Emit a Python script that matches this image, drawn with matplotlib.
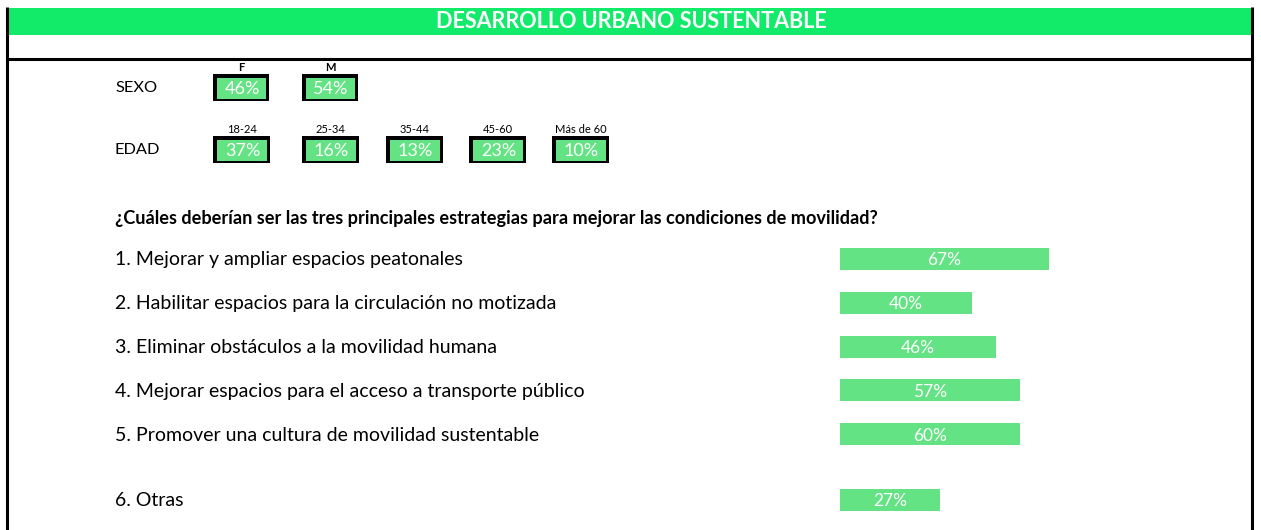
import matplotlib
matplotlib.use("Agg")
import matplotlib.pyplot as plt
from matplotlib.patches import Rectangle
from matplotlib.transforms import blended_transform_factory

plt.rcParams['font.family'] = ['Lato', 'DejaVu Sans']

# ---------------- data ----------------
title = "DESARROLLO URBANO SUSTENTABLE"
sexo_labels = ["F", "M"]
sexo_values = [46, 54]
edad_labels = ["18-24", "25-34", "35-44", "45-60", "Más de 60"]
edad_values = [37, 16, 13, 23, 10]
question = "¿Cuáles deberían ser las tres principales estrategias para mejorar las condiciones de movilidad?"
strategies = [
    "1. Mejorar y ampliar espacios peatonales",
    "2. Habilitar espacios para la circulación no motizada",
    "3. Eliminar obstáculos a la movilidad humana",
    "4. Mejorar espacios para el acceso a transporte público",
    "5. Promover una cultura de movilidad sustentable",
    "6. Otras",
]
strategy_values = [67, 40, 46, 57, 60, 27]
# bar lengths as drawn in the picture (in % units)
bar_lengths = [67, 42.3, 50, 57.7, 57.7, 32.1]

# ---------------- layout / style ----------------
W, H = 1261, 530
HEADER_GREEN = "#12EA6A"
BAR_GREEN = "#63E383"
fig = plt.figure(figsize=(W / 100, H / 100), dpi=100)
fig.patch.set_facecolor("white")

# overlay axes in pixel coordinates for frame decorations
ov = fig.add_axes([0, 0, 1, 1])
ov.set_xlim(0, W)
ov.set_ylim(H, 0)
ov.axis("off")

# header band
ov.add_patch(Rectangle((8, 8), 1243, 27, facecolor=HEADER_GREEN, edgecolor="none"))
ov.text(631, 22, title, color="white", fontsize=15.5, fontweight="bold",
        ha="center", va="center")
# frame lines
ov.plot([7, 7], [7, H], color="black", lw=2.2, solid_capstyle="butt")
ov.plot([1252, 1252], [7, H], color="black", lw=2.2, solid_capstyle="butt")
ov.plot([7, 1253], [58.5, 58.5], color="black", lw=2.2, solid_capstyle="butt")

# SEXO / EDAD boxes
def draw_box(x0, w, y0, h, header, value, bold_header):
    ov.add_patch(Rectangle((x0, y0), w, h, facecolor="black", edgecolor="none"))
    ov.add_patch(Rectangle((x0 + 3.5, y0 + 3.5), w - 7, h - 6, facecolor=BAR_GREEN,
                           edgecolor="none"))
    ov.text(x0 + w / 2 + 1, y0 + h / 2 + 1.5, f"{value}%", color="white", fontsize=13,
            ha="center", va="center")
    ov.text(x0 + w / 2, y0 - 6.5, header, color="black", fontsize=8,
            fontweight="bold" if bold_header else "normal", ha="center", va="center")

ov.text(115, 88, "SEXO", fontsize=11.8, ha="left", va="center")
sexo_x = [213, 302]
for x0, lab, v in zip(sexo_x, sexo_labels, sexo_values):
    draw_box(x0, 56, 74, 27, lab, v, True)

ov.text(115, 150, "EDAD", fontsize=11.8, ha="left", va="center")
edad_x = [213, 302, 386, 469, 552]
for x0, lab, v in zip(edad_x, edad_labels, edad_values):
    draw_box(x0, 57, 136, 27, lab, v, False)

ov.text(115, 218.5, question, fontsize=13.1, fontweight="bold", ha="left", va="center")

# ---------------- bar chart ----------------
row_pos = [0, 1, 2, 3, 4, 5.5]
px_per_unit = 3.12
row_px = 43.8
top_px = 259 - 0.5 * row_px
bot_px = 259 + 6.0 * row_px
ax = fig.add_axes([840 / W, 1 - bot_px / H, 100 * px_per_unit / W, (bot_px - top_px) / H])
ax.set_xlim(0, 100)
ax.set_ylim(6.0, -0.5)
ax.axis("off")
ax.barh(row_pos, bar_lengths, height=0.5, color=BAR_GREEN, edgecolor="none")
for y, L, v in zip(row_pos, bar_lengths, strategy_values):
    ax.text(L / 2, y + 0.03, f"{v}%", color="white", fontsize=12.5, ha="center", va="center")

tr = blended_transform_factory(fig.transFigure, ax.transData)
for y, lab in zip(row_pos, strategies):
    ax.text(115 / W, y + 0.02, lab, transform=tr, fontsize=14, ha="left", va="center",
            clip_on=False)

fig.savefig("out.png", dpi=100, facecolor="white")
